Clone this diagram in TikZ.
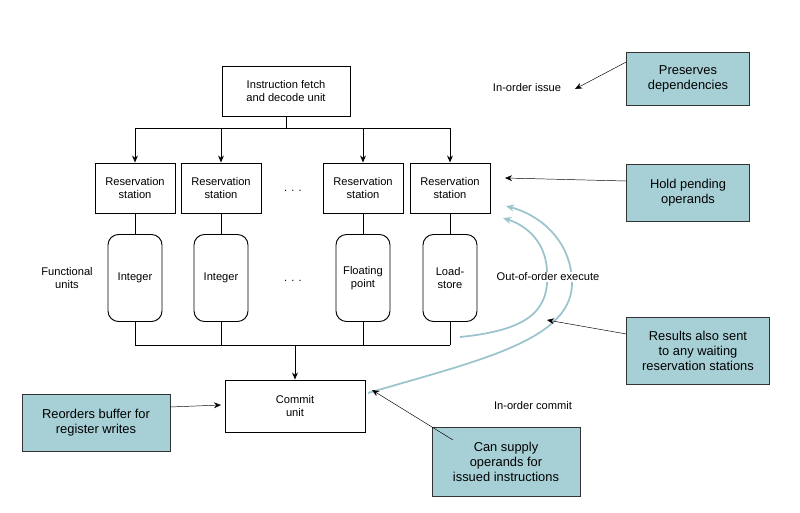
\documentclass[tikz,border=0pt]{standalone}
\usepackage{fontspec}
\setmainfont{Liberation Sans}
\usetikzlibrary{arrows.meta}
\definecolor{tealbox}{HTML}{A7D0D6}
\definecolor{curve}{HTML}{9CC4CC}
\begin{document}
\begin{tikzpicture}[x=0.03cm,y=-0.03cm,
  box/.style={draw,thick,fill=white,align=center,font=\fontsize{9.5}{11}\selectfont,inner sep=0pt},
  fu/.style={draw,thick,fill=white,rounded corners=9pt,align=center,font=\fontsize{9.5}{11}\selectfont,minimum width=54*0.03cm,minimum height=87*0.03cm,inner sep=0pt},
  note/.style={draw=black!80,fill=tealbox,align=center,font=\fontsize{11}{13}\selectfont,inner sep=0pt},
  lbl/.style={font=\fontsize{9.5}{11}\selectfont,align=center},
  arr/.style={-{Stealth[length=6pt,width=5pt]}},
  carr/.style={curve,line width=1.5pt,-{Stealth[length=7pt,width=6pt]}}]
\useasboundingbox (0,0) rectangle (800,513);
% curves first
\coordinate (c1s) at (460,337);
\coordinate (c1e) at (503,218);
\coordinate (c2s) at (368,393);
\coordinate (c2e) at (506,206);
\draw[carr] (c1s) .. controls (530,330) and (550,310) .. (547,270) .. controls (545,240) and (525,225) .. (c1e);
\draw[carr] (c2s) .. controls (480,360) and (575,340) .. (572,280) .. controls (570,240) and (540,215) .. (c2e);
\node[lbl,fill=white,inner sep=1pt] (ooe) at (548,277) {Out-of-order execute};

\node[box,minimum width=128*0.03cm,minimum height=50*0.03cm] (ifd) at (286,91) {Instruction fetch\\and decode unit};
\foreach \n/\x in {r1/135,r2/221,r3/363,r4/450}{
  \node[box,minimum width=80*0.03cm,minimum height=50*0.03cm] (\n) at (\x,188) {Reservation\\station};
}
\node[fu] (f1) at (135,278) {Integer};
\node[fu] (f2) at (221,278) {Integer};
\node[fu] (f3) at (363,278) {Floating\\point};
\node[fu] (f4) at (450,278) {Load-\\store};
\node[box,minimum width=140*0.03cm,minimum height=52*0.03cm] (cu) at (295,406) {Commit\\unit};
\node[lbl] (d1) at (293,191) {. . .};
\node[lbl] (d2) at (293,281) {. . .};
\node[lbl] (fun) at (67,278) {Functional\\units};

\coordinate (top) at (286,128);
\coordinate (bot) at (295,345);
\draw[thick] (ifd.south) -- (top);
\draw[thick] (135,128) -- (450,128);
\foreach \n in {r1,r2,r3,r4}{\draw[thick,arr] (\n.north |- top) -- (\n.north);}
\foreach \a/\b in {r1/f1,r2/f2,r3/f3,r4/f4}{
  \draw[thick] (\a.south) -- (\b.north);
  \draw[thick] (\b.south) -- (\b.south |- bot);}
\draw[thick] (135,345) -- (450,345);
\draw[thick,arr] (bot) -- (cu.north);

\node[lbl] (ioi) at (527,88) {In-order issue};
\node[lbl] (ioc) at (533,406) {In-order commit};
\node[note,minimum width=123*0.03cm,minimum height=53*0.03cm] (pd) at (688,79) {Preserves\\dependencies};
\node[note,minimum width=123*0.03cm,minimum height=57*0.03cm] (hp) at (688,193) {Hold pending\\operands};
\node[note,minimum width=143*0.03cm,minimum height=67*0.03cm] (rs) at (698,351) {Results also sent\\to any waiting\\reservation stations};
\node[note,minimum width=148*0.03cm,minimum height=57*0.03cm] (rb) at (96,423) {Reorders buffer for\\register writes};
\node[note,minimum width=148*0.03cm,minimum height=69*0.03cm] (cs) at (506,462) {Can supply\\operands for\\issued instructions};

\coordinate (t1) at (575,89);
\coordinate (t2) at (505,178);
\coordinate (t3) at (547,320);
\coordinate (t4) at (221,405);
\coordinate (t5) at (372,390);
\draw[arr] (pd.west |- 0,62) -- (t1);
\draw[arr] (hp.west |- 0,181) -- (t2);
\draw[arr] (rs.west |- 0,334) -- (t3);
\draw[arr] (rb.east |- 0,407) -- (t4);
\draw[arr] (453,440) -- (t5);
\end{tikzpicture}
\end{document}
